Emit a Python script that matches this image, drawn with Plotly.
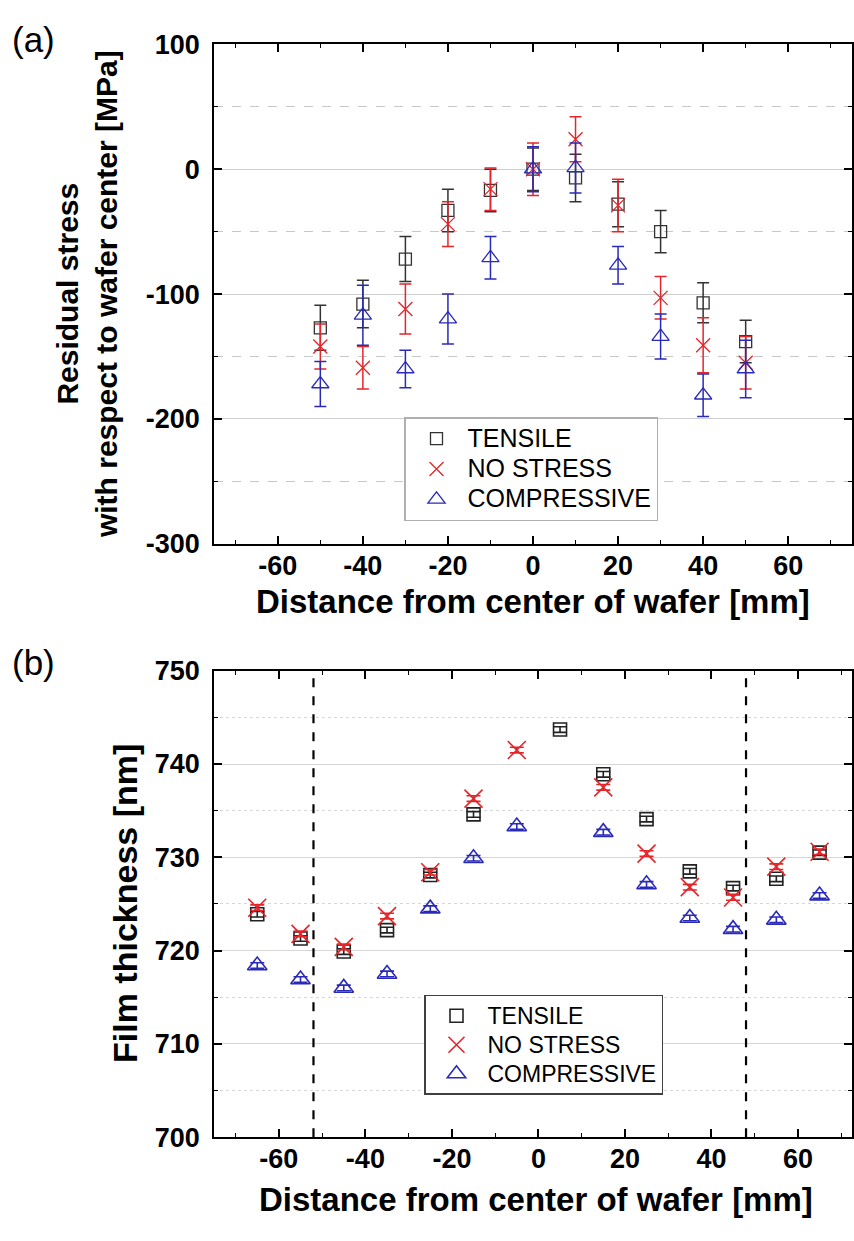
import plotly.graph_objects as go

# ---------------- Panel (a): residual stress ----------------
pos_a = [-50, -40, -30, -20, -10, 0, 10, 20, 30, 40, 50]
tensile_a = [-127, -108, -72, -33, -17, 0, -7, -28, -50, -107, -138]
tensile_a_err = [18, 19, 18, 17, 17, 17, 19, 18, 17, 16, 17]
nostress_a = [-142, -159, -112, -44, -16, 0, 24, -29, -103, -141, -155]
nostress_a_err = [18, 17, 20, 18, 17, 21, 18, 21, 17, 22, 21]
compr_a = [-172, -117, -160, -120, -71, 0, 1, -77, -134, -181, -160]
compr_a_err = [18, 24, 15, 20, 17, 18, 20, 15, 18, 17, 23]
yticks_a = [-300, -200, -100, 0, 100]
yticklabels_a = ["-300", "-200", "-100", "0", "100"]

# ---------------- Panel (b): film thickness ----------------
tensile_b_x = [-65, -55, -45, -35, -25, -15, 5, 15, 25, 35, 45, 55, 65]
tensile_b = [723.9, 721.3, 719.9, 722.2, 728.1, 734.6, 743.7, 738.9, 734.1, 728.5, 726.7, 727.7, 730.5]
nostress_b_x = [-65, -55, -45, -35, -25, -15, -5, 15, 25, 35, 45, 55, 65]
nostress_b = [724.6, 721.8, 720.4, 723.7, 728.4, 736.3, 741.5, 737.5, 730.4, 726.8, 725.7, 729.0, 730.6]
compr_b_x = [-65, -55, -45, -35, -25, -15, -5, 15, 25, 35, 45, 55, 65]
compr_b = [718.4, 716.9, 716.0, 717.5, 724.5, 729.9, 733.3, 732.7, 727.1, 723.5, 722.3, 723.3, 725.9]
err_b = 0.3
boundary_b = [-52, 48]
yticks_b = [700, 710, 720, 730, 740, 750]

# shared x ticks
xticks = [-60, -40, -20, 0, 20, 40, 60]
xticklabels = ["-60", "-40", "-20", "0", "20", "40", "60"]

names = ["TENSILE", "NO STRESS", "COMPRESSIVE"]
col_t = "#333333"
col_n = "#e3262a"
col_c = "#2a2ab8"
FONT = "Liberation Sans, Arial, sans-serif"

fig = go.Figure()

# panel a traces
for xs, ys, es, nm, col, sym, sz in [
    (pos_a, tensile_a, tensile_a_err, names[0], col_t, "square-open", 12),
    (pos_a, nostress_a, nostress_a_err, names[1], col_n, "x-thin-open", 14),
    (pos_a, compr_a, compr_a_err, names[2], col_c, "triangle-up-open", 15),
]:
    fig.add_trace(go.Scatter(
        x=xs, y=ys, mode="markers", legend="legend",
        name="<span style='font-size:25px'>%s</span>" % nm,
        marker=dict(symbol=sym, size=sz, color=col, line=dict(color=col, width=1.3)),
        error_y=dict(type="data", array=es, visible=True, color=col, thickness=1.5, width=6),
        xaxis="x", yaxis="y"))

# panel b traces
for xs, ys, nm, col, sym, sz in [
    (tensile_b_x, tensile_b, names[0], "#222222", "square-open", 13),
    (nostress_b_x, nostress_b, names[1], col_n, "x-thin-open", 18),
    (compr_b_x, compr_b, names[2], col_c, "triangle-up-open", 17),
]:
    fig.add_trace(go.Scatter(
        x=xs, y=ys, mode="markers", legend="legend2",
        name="<span style='font-size:23px'>%s</span>" % nm,
        marker=dict(symbol=sym, size=sz, color=col, line=dict(color=col, width=1.6)),
        error_y=dict(type="constant", value=err_b, visible=True, color=col, thickness=1.6, width=7),
        xaxis="x2", yaxis="y2"))

# dashed boundaries in panel b
for bx in boundary_b:
    fig.add_shape(type="line", xref="x2", yref="y2 domain", x0=bx, x1=bx, y0=0, y1=1,
                  line=dict(color="black", width=2.2, dash="dash"))

W, H = 854, 1241
xa_dom = [214 / W, 852 / W]
ya_dom = [1 - 542 / H, 1 - 30 / H]
yb_dom = [1 - 1150 / H, 1 - 672 / H]

tickfont = dict(family=FONT, size=27, color="black", weight="bold")

def xaxis_common(dom, rng, anchor):
    return dict(domain=dom, range=rng, anchor=anchor, showline=True, linecolor="black", linewidth=1.5,
                mirror="allticks", ticks="inside", ticklen=8, tickwidth=1.5, tickcolor="black",
                tickmode="array", tickvals=xticks, ticktext=xticklabels,
                showgrid=False, zeroline=False, tickfont=tickfont, ticklabelstandoff=-3,
                minor=dict(tickmode="linear", tick0=0, dtick=10, ticks="inside", ticklen=4,
                           tickwidth=1.2, tickcolor="black", showgrid=False))

fig.update_layout(
    width=W, height=H, margin=dict(l=0, r=0, t=0, b=0),
    paper_bgcolor="white", plot_bgcolor="white",
    font=dict(family=FONT, color="black"),
    xaxis=xaxis_common(xa_dom, [-75, 75], "y"),
    xaxis2=xaxis_common(xa_dom, [-75, 72.5], "y2"),
    yaxis=dict(domain=ya_dom, range=[-300, 100], anchor="x", showline=True, linecolor="black", linewidth=1.5,
               mirror="allticks", ticks="inside", ticklen=8, tickwidth=1.5, tickcolor="black",
               tickmode="array", tickvals=yticks_a, ticktext=yticklabels_a,
               showgrid=True, gridcolor="#cfcfcf", gridwidth=1, zeroline=False,
               tickfont=tickfont, ticklabelstandoff=7,
               minor=dict(tickmode="linear", tick0=0, dtick=50, ticks="inside", ticklen=4, tickwidth=1.2,
                          tickcolor="black", showgrid=True, gridcolor="#c8c8c8", griddash="dash", gridwidth=1)),
    yaxis2=dict(domain=yb_dom, range=[700, 750], anchor="x2", showline=True, linecolor="black", linewidth=1.5,
                mirror="allticks", ticks="inside", ticklen=8, tickwidth=1.5, tickcolor="black",
                tickmode="array", tickvals=yticks_b,
                showgrid=True, gridcolor="#d6d6d6", gridwidth=1, zeroline=False,
                tickfont=tickfont, ticklabelstandoff=7,
                minor=dict(tickmode="linear", tick0=700, dtick=5, ticks="inside", ticklen=4, tickwidth=1.2,
                           tickcolor="black", showgrid=True, gridcolor="#d6d6d6", griddash="dot", gridwidth=1)),
    legend=dict(x=404 / W, y=1 - 412 / H, xanchor="left", yanchor="top",
                bgcolor="white", bordercolor="#b0b0b0", borderwidth=1.5,
                font=dict(family=FONT, size=21, color="black"), itemwidth=52,
                tracegroupgap=0),
    legend2=dict(x=424 / W, y=1 - 1004 / H, xanchor="left", yanchor="top",
                 bgcolor="white", bordercolor="#404040", borderwidth=1.5,
                 font=dict(family=FONT, size=20, color="black"), itemwidth=52,
                 tracegroupgap=0),
)

ann = [
    dict(text="(a)", x=10 / W, y=1 - 25 / H, xanchor="left", yanchor="middle",
         font=dict(family=FONT, size=35, color="black")),
    dict(text="(b)", x=10 / W, y=1 - 664 / H, xanchor="left", yanchor="middle",
         font=dict(family=FONT, size=35, color="black")),
    dict(text="Residual stress<br>with respect to wafer center [MPa]", x=87 / W, y=1 - 286 / H,
         xanchor="center", yanchor="middle", textangle=-90,
         font=dict(family=FONT, size=30, color="black", weight="bold")),
    dict(text="Film thickness [nm]", x=125 / W, y=1 - 911 / H,
         xanchor="center", yanchor="middle", textangle=-90,
         font=dict(family=FONT, size=34, color="black", weight="bold")),
    dict(text="Distance from center of wafer [mm]", x=533 / W, y=1 - 601 / H,
         xanchor="center", yanchor="middle",
         font=dict(family=FONT, size=33, color="black", weight="bold")),
    dict(text="Distance from center of wafer [mm]", x=536 / W, y=1 - 1214 / H,
         xanchor="center", yanchor="middle",
         font=dict(family=FONT, size=33, color="black", weight="bold")),
]
for a in ann:
    a.update(xref="paper", yref="paper", showarrow=False)
fig.update_layout(annotations=ann)

fig.write_html("out.html")
